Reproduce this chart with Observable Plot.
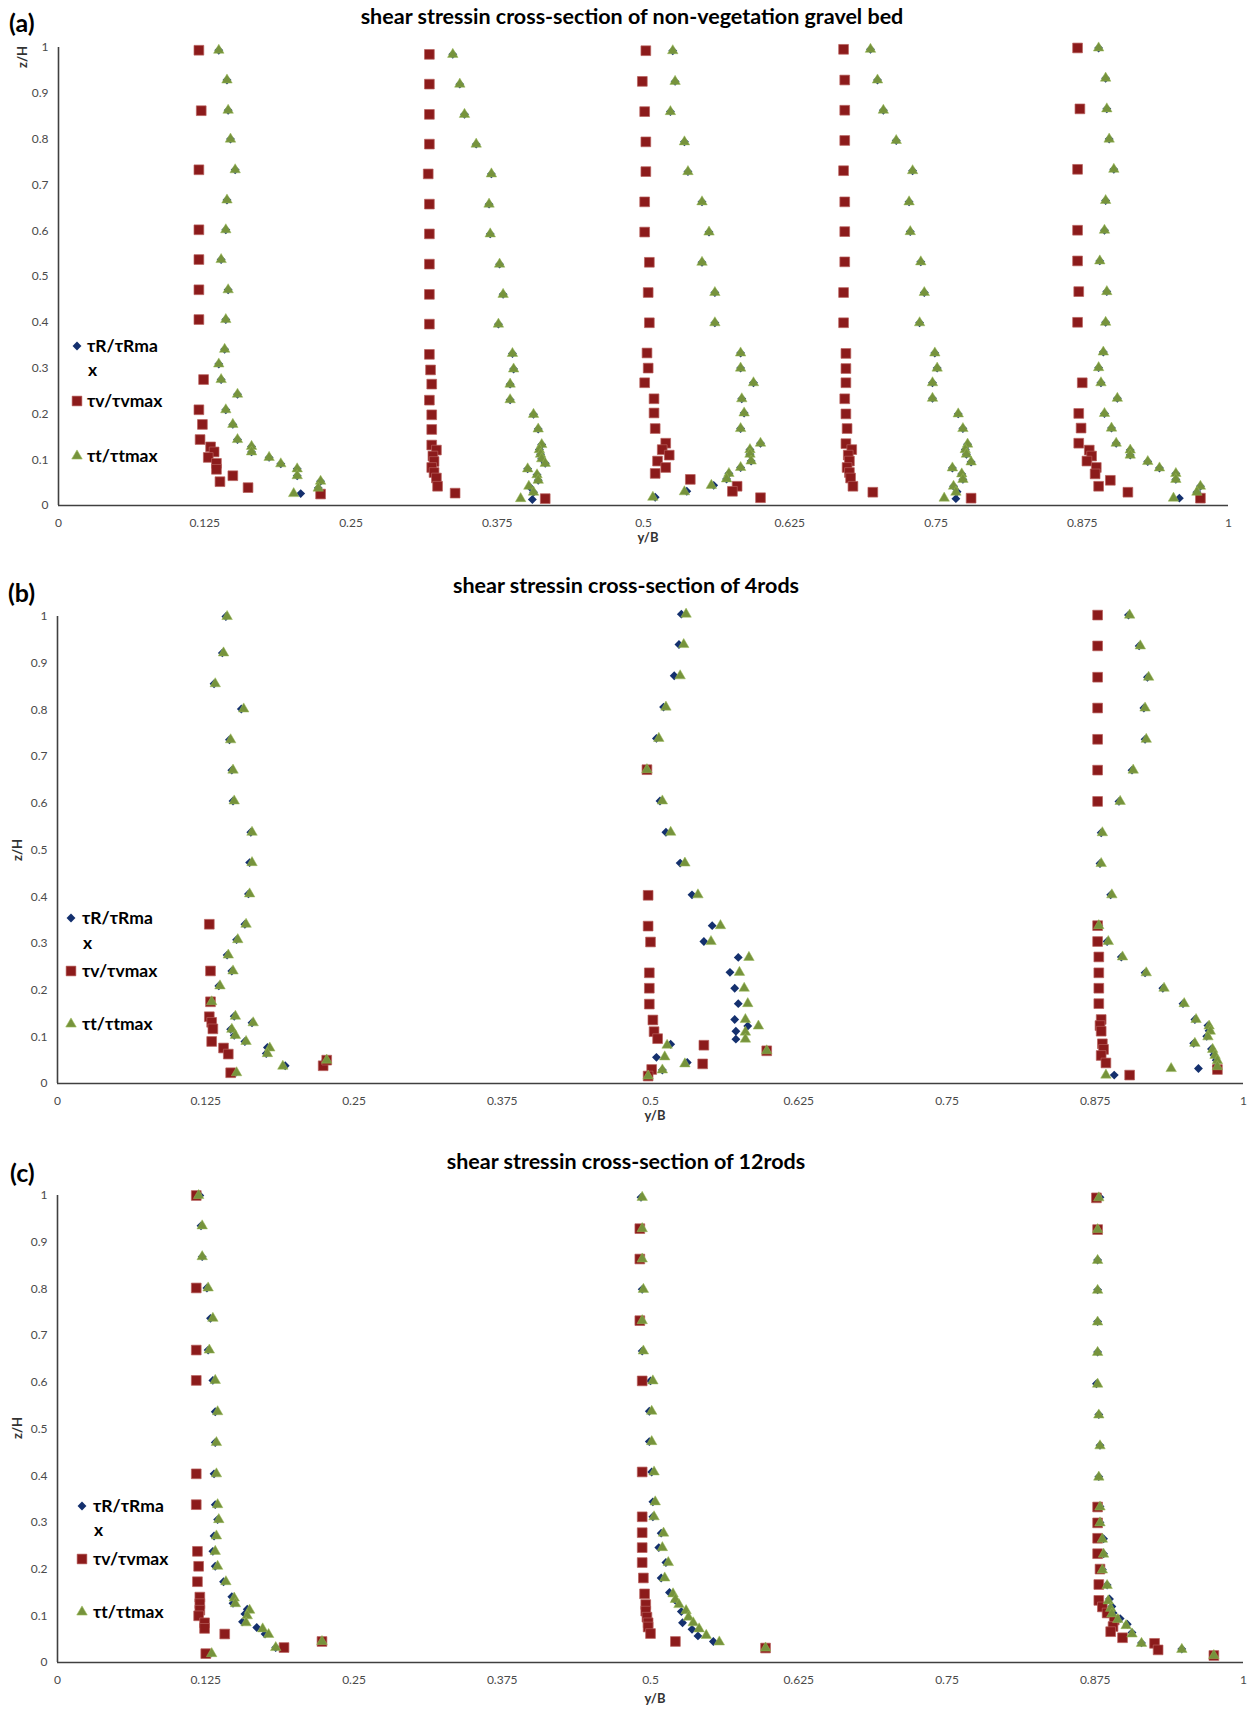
<!DOCTYPE html>
<html><head><meta charset="utf-8">
<script src="https://cdn.jsdelivr.net/npm/d3@7"></script>
<script src="https://cdn.jsdelivr.net/npm/@observablehq/plot@0.6"></script>
<style>
html,body{margin:0;padding:0;background:#fff;}
#root{position:relative;width:1255px;height:1709px;overflow:hidden;font-family:Lato,"Open Sans",sans-serif;background:#fff;}
.abs{position:absolute;white-space:nowrap;line-height:1;}
.title{font-weight:700;font-size:21.5px;color:#000;transform:translate(-50%,-50%);}
.tag{font-weight:700;font-size:25px;color:#000;transform:translateY(-50%);}
.xlab{font-weight:700;font-size:13px;color:#333;transform:translate(-50%,-50%);}
.ylab{font-weight:700;font-size:13px;color:#333;transform:translate(-50%,-50%) rotate(-90deg);}
.leg{font-weight:700;font-size:17.5px;color:#000;transform:translateY(-50%);}
svg{display:block;}
</style></head><body><div id="root"></div>
<script>
// ---------- tick values & labels ----------
const xTicks = [0, 0.125, 0.25, 0.375, 0.5, 0.625, 0.75, 0.875, 1];
const yTicks = [0, 0.1, 0.2, 0.3, 0.4, 0.5, 0.6, 0.7, 0.8, 0.9, 1];
const panelTags = ["(a)", "(b)", "(c)"];
const panelTitles = [
  "shear stressin cross-section of non-vegetation gravel bed",
  "shear stressin cross-section of 4rods",
  "shear stressin cross-section of 12rods"
];
const seriesNames = ["τR/τRma", "x", "τv/τvmax", "τt/τtmax"];
const xLabel = "y/B";
const yLabel = "z/H";

// ---------- panel (a): non-vegetation gravel bed  [y/B, z/H] ----------
const aR = [
  [0.137,0.994],[0.144,0.929],[0.145,0.863],[0.147,0.800],[0.151,0.733],[0.144,0.667],[0.143,0.602],[0.139,0.537],[0.145,0.471],[0.143,0.406],[0.142,0.341],[0.137,0.309],[0.139,0.275],[0.153,0.243],[0.143,0.209],[0.149,0.177],[0.153,0.144],[0.165,0.129],[0.165,0.117],[0.180,0.105],[0.190,0.091],[0.204,0.080],[0.204,0.065],[0.224,0.053],[0.222,0.038],[0.207,0.026],
  [0.337,0.985],[0.343,0.920],[0.347,0.854],[0.357,0.789],[0.370,0.724],[0.368,0.658],[0.369,0.593],[0.377,0.527],[0.380,0.461],[0.376,0.396],[0.388,0.332],[0.389,0.298],[0.386,0.265],[0.386,0.231],[0.406,0.199],[0.410,0.167],[0.413,0.133],[0.411,0.122],[0.412,0.112],[0.413,0.102],[0.416,0.092],[0.401,0.080],[0.409,0.067],[0.410,0.055],[0.403,0.040],[0.406,0.029],[0.405,0.013],
  [0.525,0.993],[0.527,0.926],[0.523,0.860],[0.535,0.794],[0.538,0.729],[0.550,0.663],[0.556,0.597],[0.550,0.531],[0.561,0.465],[0.561,0.399],[0.583,0.333],[0.583,0.300],[0.594,0.268],[0.584,0.233],[0.586,0.202],[0.583,0.168],[0.600,0.136],[0.591,0.122],[0.591,0.112],[0.592,0.097],[0.583,0.083],[0.573,0.070],[0.571,0.058],[0.560,0.044],[0.537,0.031],[0.510,0.018],
  [0.694,0.996],[0.700,0.929],[0.705,0.863],[0.716,0.797],[0.730,0.731],[0.727,0.663],[0.728,0.598],[0.737,0.532],[0.740,0.465],[0.736,0.399],[0.749,0.333],[0.751,0.300],[0.747,0.268],[0.747,0.234],[0.769,0.200],[0.773,0.168],[0.777,0.134],[0.775,0.122],[0.776,0.112],[0.780,0.095],[0.764,0.082],[0.772,0.069],[0.773,0.057],[0.765,0.042],[0.768,0.030],[0.767,0.015],
  [0.889,0.999],[0.895,0.933],[0.896,0.866],[0.898,0.800],[0.902,0.734],[0.895,0.666],[0.894,0.601],[0.890,0.534],[0.896,0.467],[0.895,0.400],[0.893,0.335],[0.889,0.301],[0.891,0.268],[0.905,0.234],[0.894,0.201],[0.900,0.169],[0.904,0.136],[0.916,0.121],[0.916,0.110],[0.931,0.096],[0.941,0.082],[0.955,0.070],[0.955,0.057],[0.976,0.042],[0.973,0.029],[0.958,0.016]
];
const aV = [
  [0.120,0.994],[0.122,0.862],[0.120,0.733],[0.120,0.602],[0.120,0.537],[0.120,0.471],[0.120,0.406],[0.124,0.275],[0.120,0.209],[0.123,0.177],[0.121,0.144],[0.130,0.128],[0.133,0.117],[0.128,0.105],[0.135,0.092],[0.135,0.079],[0.138,0.052],[0.149,0.065],[0.162,0.039],[0.224,0.025],
  [0.317,0.985],[0.317,0.920],[0.317,0.854],[0.317,0.789],[0.316,0.724],[0.317,0.658],[0.317,0.593],[0.317,0.527],[0.317,0.461],[0.317,0.396],[0.317,0.330],[0.318,0.296],[0.319,0.265],[0.317,0.230],[0.319,0.198],[0.319,0.166],[0.319,0.132],[0.323,0.121],[0.320,0.108],[0.321,0.096],[0.319,0.083],[0.321,0.072],[0.323,0.060],[0.324,0.042],[0.339,0.027],[0.416,0.015],
  [0.502,0.993],[0.499,0.926],[0.501,0.860],[0.502,0.794],[0.502,0.729],[0.501,0.663],[0.501,0.597],[0.505,0.531],[0.504,0.465],[0.505,0.399],[0.503,0.333],[0.504,0.300],[0.501,0.268],[0.509,0.233],[0.509,0.202],[0.510,0.168],[0.519,0.136],[0.516,0.122],[0.522,0.110],[0.512,0.097],[0.519,0.083],[0.510,0.070],[0.540,0.057],[0.580,0.042],[0.576,0.031],[0.600,0.017],
  [0.671,0.996],[0.672,0.929],[0.672,0.863],[0.672,0.797],[0.671,0.731],[0.672,0.663],[0.672,0.598],[0.672,0.532],[0.671,0.465],[0.671,0.399],[0.673,0.332],[0.673,0.299],[0.673,0.268],[0.672,0.233],[0.673,0.200],[0.674,0.168],[0.673,0.135],[0.678,0.122],[0.675,0.110],[0.676,0.097],[0.674,0.083],[0.676,0.072],[0.677,0.060],[0.679,0.042],[0.696,0.029],[0.780,0.016],
  [0.871,0.999],[0.873,0.866],[0.871,0.734],[0.871,0.601],[0.871,0.534],[0.872,0.467],[0.871,0.400],[0.875,0.268],[0.872,0.201],[0.874,0.169],[0.872,0.136],[0.881,0.121],[0.883,0.108],[0.879,0.097],[0.887,0.083],[0.886,0.069],[0.899,0.055],[0.889,0.042],[0.914,0.029],[0.976,0.016]
];
const aT = [
  [0.137,0.994],[0.144,0.929],[0.145,0.863],[0.147,0.800],[0.151,0.733],[0.144,0.667],[0.143,0.602],[0.139,0.537],[0.145,0.471],[0.143,0.406],[0.142,0.341],[0.137,0.309],[0.139,0.275],[0.153,0.243],[0.143,0.209],[0.149,0.177],[0.153,0.144],[0.165,0.129],[0.165,0.117],[0.180,0.105],[0.190,0.091],[0.204,0.080],[0.204,0.065],[0.224,0.053],[0.222,0.038],[0.201,0.026],
  [0.337,0.985],[0.343,0.920],[0.347,0.854],[0.357,0.789],[0.370,0.724],[0.368,0.658],[0.369,0.593],[0.377,0.527],[0.380,0.461],[0.376,0.396],[0.388,0.332],[0.389,0.298],[0.386,0.265],[0.386,0.231],[0.406,0.199],[0.410,0.167],[0.413,0.133],[0.411,0.122],[0.412,0.112],[0.413,0.102],[0.416,0.092],[0.401,0.080],[0.409,0.067],[0.410,0.055],[0.402,0.042],[0.406,0.029],[0.395,0.015],
  [0.525,0.993],[0.527,0.926],[0.523,0.860],[0.535,0.794],[0.538,0.729],[0.550,0.663],[0.556,0.597],[0.550,0.531],[0.561,0.465],[0.561,0.399],[0.583,0.333],[0.583,0.300],[0.594,0.268],[0.584,0.233],[0.586,0.202],[0.583,0.168],[0.600,0.136],[0.591,0.122],[0.591,0.112],[0.592,0.097],[0.583,0.083],[0.573,0.070],[0.571,0.058],[0.558,0.044],[0.535,0.030],[0.508,0.018],
  [0.694,0.996],[0.700,0.929],[0.705,0.863],[0.716,0.797],[0.730,0.731],[0.727,0.663],[0.728,0.598],[0.737,0.532],[0.740,0.465],[0.736,0.399],[0.749,0.333],[0.751,0.300],[0.747,0.268],[0.747,0.234],[0.769,0.200],[0.773,0.168],[0.777,0.134],[0.775,0.122],[0.776,0.112],[0.780,0.095],[0.764,0.082],[0.772,0.069],[0.773,0.057],[0.765,0.042],[0.767,0.029],[0.757,0.016],
  [0.889,0.999],[0.895,0.933],[0.896,0.866],[0.898,0.800],[0.902,0.734],[0.895,0.666],[0.894,0.601],[0.890,0.534],[0.896,0.467],[0.895,0.400],[0.893,0.335],[0.889,0.301],[0.891,0.268],[0.905,0.234],[0.894,0.201],[0.900,0.169],[0.904,0.136],[0.916,0.121],[0.916,0.110],[0.931,0.096],[0.941,0.082],[0.955,0.070],[0.955,0.057],[0.976,0.042],[0.973,0.029],[0.953,0.016]
];

// ---------- panel (b): 4 rods ----------
const bR = [
  [0.142,1.000],[0.139,0.922],[0.132,0.856],[0.155,0.802],[0.145,0.736],[0.147,0.671],[0.148,0.605],[0.163,0.538],[0.162,0.473],[0.161,0.406],[0.158,0.341],[0.151,0.308],[0.143,0.275],[0.147,0.241],[0.136,0.209],[0.129,0.175],[0.149,0.144],[0.164,0.130],[0.146,0.116],[0.149,0.103],[0.158,0.090],[0.177,0.077],[0.176,0.064],[0.192,0.038],[0.226,0.050],[0.150,0.023],
  [0.526,1.005],[0.524,0.940],[0.520,0.873],[0.511,0.806],[0.505,0.739],[0.497,0.672],[0.508,0.605],[0.513,0.538],[0.525,0.472],[0.535,0.404],[0.552,0.338],[0.545,0.304],[0.574,0.270],[0.567,0.238],[0.571,0.204],[0.574,0.171],[0.571,0.137],[0.582,0.123],[0.572,0.112],[0.572,0.095],[0.598,0.070],[0.517,0.084],[0.505,0.056],[0.531,0.045],[0.510,0.029],[0.498,0.016],
  [0.903,1.003],[0.912,0.937],[0.919,0.870],[0.916,0.804],[0.917,0.737],[0.906,0.671],[0.895,0.604],[0.880,0.537],[0.879,0.471],[0.888,0.404],[0.878,0.338],[0.885,0.304],[0.897,0.271],[0.917,0.237],[0.932,0.204],[0.949,0.171],[0.959,0.137],[0.970,0.124],[0.971,0.113],[0.969,0.101],[0.958,0.086],[0.973,0.074],[0.975,0.061],[0.977,0.050],[0.977,0.037],[0.962,0.032],[0.891,0.018]
];
const bV = [
  [0.128,0.341],[0.129,0.241],[0.129,0.175],[0.128,0.143],[0.130,0.131],[0.131,0.117],[0.130,0.090],[0.140,0.076],[0.144,0.063],[0.146,0.023],[0.224,0.038],[0.227,0.050],
  [0.497,0.672],[0.498,0.403],[0.498,0.337],[0.500,0.303],[0.499,0.237],[0.499,0.204],[0.499,0.170],[0.502,0.136],[0.503,0.111],[0.506,0.096],[0.545,0.082],[0.544,0.042],[0.598,0.070],[0.501,0.030],[0.498,0.016],
  [0.877,1.003],[0.877,0.937],[0.877,0.870],[0.877,0.804],[0.877,0.737],[0.877,0.671],[0.877,0.604],[0.877,0.338],[0.877,0.304],[0.878,0.271],[0.878,0.237],[0.878,0.204],[0.878,0.171],[0.880,0.137],[0.879,0.124],[0.880,0.112],[0.881,0.085],[0.882,0.073],[0.880,0.060],[0.884,0.044],[0.904,0.018],[0.978,0.030]
];
const bT = [
  [0.143,1.000],[0.140,0.922],[0.133,0.856],[0.157,0.802],[0.146,0.736],[0.148,0.671],[0.149,0.605],[0.164,0.538],[0.164,0.473],[0.162,0.406],[0.159,0.341],[0.152,0.308],[0.144,0.275],[0.148,0.241],[0.137,0.209],[0.130,0.175],[0.150,0.144],[0.165,0.130],[0.147,0.116],[0.150,0.103],[0.159,0.090],[0.179,0.076],[0.177,0.064],[0.190,0.037],[0.227,0.050],[0.151,0.023],
  [0.530,1.005],[0.528,0.940],[0.525,0.873],[0.513,0.806],[0.507,0.739],[0.497,0.672],[0.510,0.605],[0.517,0.538],[0.529,0.472],[0.540,0.404],[0.559,0.338],[0.551,0.304],[0.583,0.270],[0.575,0.238],[0.579,0.204],[0.582,0.171],[0.580,0.137],[0.591,0.123],[0.580,0.110],[0.580,0.095],[0.598,0.070],[0.514,0.082],[0.512,0.057],[0.529,0.042],[0.510,0.029],[0.498,0.016],
  [0.904,1.003],[0.913,0.937],[0.920,0.870],[0.917,0.804],[0.918,0.737],[0.907,0.671],[0.896,0.604],[0.881,0.537],[0.880,0.471],[0.889,0.404],[0.878,0.338],[0.886,0.304],[0.898,0.271],[0.918,0.237],[0.933,0.204],[0.950,0.171],[0.960,0.137],[0.971,0.123],[0.972,0.112],[0.970,0.100],[0.959,0.086],[0.974,0.073],[0.976,0.060],[0.978,0.049],[0.978,0.036],[0.939,0.032],[0.884,0.018]
];

// ---------- panel (c): 12 rods ----------
const cR = [
  [0.120,1.000],[0.121,0.935],[0.122,0.869],[0.126,0.802],[0.129,0.737],[0.127,0.669],[0.131,0.604],[0.133,0.537],[0.133,0.471],[0.132,0.404],[0.133,0.338],[0.135,0.306],[0.132,0.271],[0.131,0.238],[0.133,0.206],[0.140,0.173],[0.147,0.141],[0.148,0.127],[0.160,0.114],[0.158,0.104],[0.156,0.087],[0.168,0.075],[0.175,0.061],[0.184,0.032],[0.223,0.045],[0.129,0.019],
  [0.492,0.996],[0.492,0.929],[0.492,0.864],[0.493,0.799],[0.492,0.732],[0.493,0.667],[0.500,0.603],[0.499,0.538],[0.499,0.473],[0.501,0.408],[0.502,0.344],[0.502,0.312],[0.509,0.277],[0.507,0.246],[0.513,0.214],[0.509,0.181],[0.516,0.150],[0.521,0.133],[0.526,0.109],[0.527,0.085],[0.535,0.071],[0.540,0.057],[0.553,0.045],[0.597,0.031],
  [0.879,0.996],[0.877,0.927],[0.877,0.862],[0.877,0.798],[0.877,0.730],[0.877,0.665],[0.876,0.597],[0.878,0.531],[0.879,0.465],[0.878,0.398],[0.879,0.334],[0.879,0.300],[0.882,0.265],[0.882,0.233],[0.881,0.199],[0.885,0.166],[0.887,0.136],[0.889,0.120],[0.890,0.106],[0.896,0.094],[0.902,0.082],[0.906,0.064],[0.914,0.042],[0.948,0.029],[0.975,0.015]
];
const cV = [
  [0.117,1.000],[0.117,0.802],[0.117,0.669],[0.117,0.604],[0.117,0.404],[0.117,0.338],[0.118,0.238],[0.119,0.206],[0.118,0.173],[0.120,0.140],[0.120,0.126],[0.120,0.112],[0.119,0.100],[0.124,0.085],[0.124,0.073],[0.141,0.061],[0.191,0.032],[0.223,0.045],[0.125,0.019],
  [0.491,0.929],[0.491,0.864],[0.491,0.732],[0.493,0.603],[0.493,0.408],[0.493,0.312],[0.493,0.278],[0.493,0.246],[0.493,0.214],[0.494,0.181],[0.495,0.147],[0.496,0.124],[0.496,0.110],[0.497,0.097],[0.498,0.085],[0.498,0.076],[0.500,0.062],[0.521,0.045],[0.597,0.031],
  [0.876,0.995],[0.877,0.927],[0.877,0.333],[0.877,0.299],[0.877,0.266],[0.877,0.233],[0.879,0.200],[0.878,0.167],[0.878,0.133],[0.881,0.119],[0.885,0.106],[0.891,0.091],[0.890,0.077],[0.888,0.066],[0.898,0.053],[0.925,0.041],[0.928,0.027],[0.975,0.015]
];
const cT = [
  [0.119,1.000],[0.122,0.935],[0.122,0.869],[0.127,0.802],[0.131,0.737],[0.128,0.669],[0.133,0.604],[0.135,0.537],[0.134,0.471],[0.134,0.404],[0.135,0.338],[0.136,0.306],[0.134,0.271],[0.133,0.238],[0.135,0.206],[0.142,0.173],[0.149,0.138],[0.150,0.126],[0.162,0.112],[0.160,0.100],[0.159,0.085],[0.173,0.072],[0.178,0.060],[0.184,0.032],[0.223,0.045],[0.130,0.019],
  [0.493,0.996],[0.493,0.929],[0.493,0.864],[0.494,0.799],[0.493,0.732],[0.494,0.667],[0.502,0.603],[0.501,0.538],[0.501,0.473],[0.503,0.408],[0.504,0.344],[0.503,0.312],[0.511,0.277],[0.510,0.246],[0.515,0.214],[0.512,0.181],[0.519,0.147],[0.521,0.135],[0.524,0.124],[0.530,0.111],[0.532,0.097],[0.536,0.085],[0.541,0.072],[0.547,0.058],[0.558,0.044],[0.597,0.031],
  [0.878,0.995],[0.877,0.927],[0.877,0.861],[0.877,0.797],[0.877,0.729],[0.877,0.664],[0.877,0.596],[0.878,0.530],[0.879,0.464],[0.878,0.397],[0.879,0.333],[0.879,0.299],[0.881,0.264],[0.882,0.232],[0.881,0.198],[0.885,0.165],[0.886,0.132],[0.888,0.116],[0.889,0.104],[0.894,0.092],[0.901,0.079],[0.906,0.061],[0.914,0.041],[0.948,0.028],[0.975,0.015]
];

// ---------- styles ----------
const COL_R = "#14306e", COL_V = "#8c1b1b", COL_V_EDGE = "#b8605c", COL_T = "#76933c", COL_T_EDGE = "#9bbb59";
const R_R = 4.0, R_V = 5.5, R_T = 3.9;
const AXIS = "#404040";
const fmt = d3.format("~g");

const layout = [
  {R: aR, V: aV, T: aT, top: 30, height: 520, mt: 17, mb: 45, ml: 58, mr: 27, titleX: 632, titleY: 17, tagX: 9, tagY: 22, ylabX: 22, ylabY: 57, xlabY: 537, legX: 77, legTX: 87, legY: [346, 370, 401, 456]},
  {R: bR, V: bV, T: bT, top: 595, height: 530, mt: 21, mb: 42, ml: 57, mr: 12, titleX: 626, titleY: 586, tagX: 8, tagY: 592, ylabX: 17, ylabY: 850, xlabY: 1115, legX: 71, legTX: 82, legY: [918, 943, 971, 1024]},
  {R: cR, V: cV, T: cT, top: 1175, height: 534, mt: 20, mb: 47, ml: 57, mr: 12, titleX: 626, titleY: 1162, tagX: 10, tagY: 1172, ylabX: 17, ylabY: 1428, xlabY: 1698, legX: 82, legTX: 93, legY: [1506, 1530, 1559, 1612]}
];

const root = document.getElementById("root");
function addText(cls, text, x, y) {
  const d = document.createElement("div");
  d.className = "abs " + cls;
  d.textContent = text;
  d.style.left = x + "px";
  d.style.top = y + "px";
  root.appendChild(d);
  return d;
}
function addSymbol(type, r, fill, stroke, x, y) {
  const s = 16;
  const path = d3.symbol(type, Math.PI * r * r)();
  const d = document.createElement("div");
  d.className = "abs";
  d.style.left = (x - s / 2) + "px";
  d.style.top = (y - s / 2) + "px";
  d.innerHTML = `<svg width="${s}" height="${s}"><path transform="translate(${s/2},${s/2})" d="${path}" fill="${fill}" stroke="${stroke}" stroke-width="0.6"/></svg>`;
  root.appendChild(d);
}

layout.forEach((p, i) => {
  const chart = Plot.plot({
    width: 1255,
    height: p.height,
    marginTop: p.mt, marginBottom: p.mb, marginLeft: p.ml, marginRight: p.mr,
    style: {fontFamily: "Lato, sans-serif", fontSize: "12px", color: "#4a4a4a", background: "transparent", overflow: "visible"},
    x: {domain: [0, 1], ticks: xTicks, tickFormat: fmt, tickSize: 0, tickPadding: 13, label: null},
    y: {domain: [0, 1], ticks: yTicks, tickFormat: fmt, tickSize: 0, tickPadding: 10, label: null},
    marks: [
      Plot.ruleY([0], {stroke: AXIS, strokeWidth: 1.6}),
      Plot.ruleX([0], {stroke: AXIS, strokeWidth: 1.6}),
      Plot.dot(p.R, {x: d => d[0], y: d => d[1], symbol: "diamond2", r: R_R, fill: COL_R, stroke: "none"}),
      Plot.dot(p.V, {x: d => d[0], y: d => d[1], symbol: "square", r: R_V, fill: COL_V, stroke: COL_V_EDGE, strokeWidth: 0.7}),
      Plot.dot(p.T, {x: d => d[0], y: d => d[1], symbol: "triangle", r: R_T, fill: COL_T, stroke: COL_T_EDGE, strokeWidth: 0.5})
    ]
  });
  const wrap = document.createElement("div");
  wrap.className = "abs";
  wrap.style.left = "0px";
  wrap.style.top = p.top + "px";
  wrap.appendChild(chart);
  root.appendChild(wrap);

  const xMid = p.ml + (1255 - p.ml - p.mr) / 2;
  addText("title", panelTitles[i], p.titleX, p.titleY);
  addText("tag", panelTags[i], p.tagX, p.tagY);
  addText("xlab", xLabel, xMid + 5, p.xlabY);
  addText("ylab", yLabel, p.ylabX, p.ylabY);

  addSymbol(d3.symbolDiamond2, R_R, COL_R, "none", p.legX, p.legY[0]);
  addText("leg", seriesNames[0], p.legTX, p.legY[0]);
  addText("leg", seriesNames[1], p.legTX + 1, p.legY[1]);
  addSymbol(d3.symbolSquare, R_V, COL_V, COL_V_EDGE, p.legX, p.legY[2]);
  addText("leg", seriesNames[2], p.legTX, p.legY[2]);
  addSymbol(d3.symbolTriangle, R_T, COL_T, COL_T_EDGE, p.legX, p.legY[3]);
  addText("leg", seriesNames[3], p.legTX, p.legY[3]);
});
</script></body></html>
